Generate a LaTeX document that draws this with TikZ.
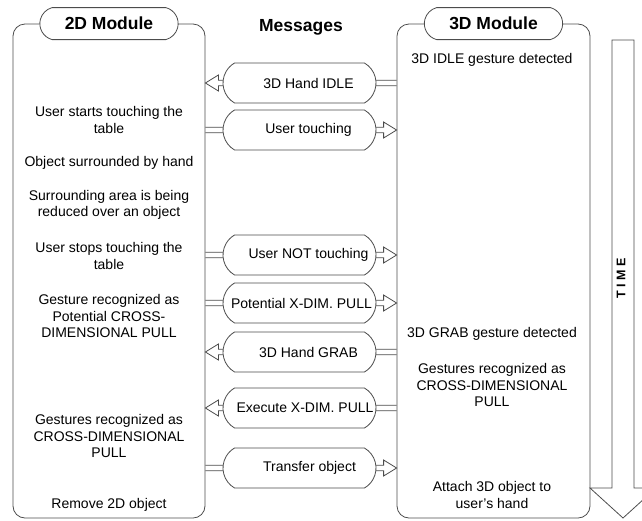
\documentclass[tikz,border=0pt]{standalone}
\usepackage{fontspec}
\setmainfont{Liberation Sans}
\usetikzlibrary{shapes.misc,backgrounds,calc}

\tikzset{
  module/.style={draw=black!70, line width=0.8pt, rounded corners=12pt},
  header/.style={draw=black!70, line width=0.8pt, fill=white, rounded rectangle,
    rounded rectangle arc length=150, minimum width=145pt, minimum height=32pt,
    font=\fontsize{17.5}{20}\selectfont\bfseries},
  msg/.style={draw=black!70, line width=0.8pt, fill=white, rounded rectangle,
    rounded rectangle arc length=120, minimum width=155pt, minimum height=40pt,
    inner xsep=1pt, font=\fontsize{14}{16}\selectfont},
  event/.style={align=center, font=\fontsize{14}{16.5}\selectfont},
  arrowbody/.style={draw=black!70, line width=0.8pt, fill=white},
}

% block arrow from a module edge (#1) to the other one (#2), at the height of message #3
\newcommand{\msgarrow}[3]{%
  \draw[arrowbody] let \p1=(#1 |- #3), \p2=(#2 |- #3),
      \p3=($(\p2)!13pt!(\p1)$) in
    (\x1,\y1+2.8pt) -- (\x3,\y1+2.8pt) -- (\x3,\y1+8pt) -- (\p2)
    -- (\x3,\y1-8pt) -- (\x3,\y1-2.8pt) -- (\x1,\y1-2.8pt);
}

\begin{document}
\begin{tikzpicture}[x=1pt,y=-1pt]
  \useasboundingbox (0,0) rectangle (642,520);
  \clip (0,0) rectangle (642,520);

  % modules
  \node[module, minimum width=192pt, minimum height=494pt] (L) at (109,271) {};
  \node[module, minimum width=193pt, minimum height=494pt] (R) at (493.5,271) {};
  \node[header] (Lhead) at (L.north) {2D Module};
  \node[header] (Rhead) at (R.north) {3D Module};
  \node[font=\fontsize{17.5}{20}\selectfont\bfseries] (mhead) at (301,27) {Messages};

  % messages
  \node[msg] (m1) at (299.5,83) {\hspace*{18pt}3D Hand IDLE};
  \node[msg] (m2) at (299.5,130) {\hspace*{18pt}User touching};
  \node[msg] (m3) at (299.5,255) {\hspace*{18pt}User NOT touching};
  \node[msg] (m4) at (299.5,303) {\hspace*{4pt}Potential X-DIM. PULL};
  \node[msg] (m5) at (299.5,352) {\hspace*{18pt}3D Hand GRAB};
  \node[msg] (m6) at (299.5,408) {\hspace*{11pt}Execute X-DIM. PULL};
  \node[msg] (m7) at (299.5,468) {\hspace*{20pt}Transfer object};

  \begin{pgfonlayer}{background}
    \msgarrow{R.west}{L.east}{m1}
    \msgarrow{L.east}{R.west}{m2}
    \msgarrow{L.east}{R.west}{m3}
    \msgarrow{L.east}{R.west}{m4}
    \msgarrow{R.west}{L.east}{m5}
    \msgarrow{R.west}{L.east}{m6}
    \msgarrow{L.east}{R.west}{m7}
  \end{pgfonlayer}

  % 2D module events
  \node[event] (l1) at (109,120) {User starts touching the\\table};
  \node[event] (l2) at (109,163) {Object surrounded by hand};
  \node[event] (l3) at (109,205) {Surrounding area is being\\reduced over an object};
  \node[event] (l4) at (109,256) {User stops touching the\\table};
  \node[event] (l5) at (109,316) {Gesture recognized as\\Potential CROSS-\\DIMENSIONAL PULL};
  \node[event] (l6) at (109,436) {Gestures recognized as\\CROSS-DIMENSIONAL\\PULL};
  \node[event] (l7) at (109,505) {Remove 2D object};

  % 3D module events
  \node[event] (r1) at (492,60) {3D IDLE gesture detected};
  \node[event] (r2) at (492,334) {3D GRAB gesture detected};
  \node[event] (r3) at (492,385) {Gestures recognized as\\CROSS-DIMENSIONAL\\PULL};
  \node[event] (r4) at (492,495) {Attach 3D object to\\user's hand};

  % time
  \draw[arrowbody] (612,40) -- (634,40) -- (634,488) -- (656,488) -- (623,518)
    -- (590,488) -- (612,488) -- cycle;
  \node[rotate=90, font=\fontsize{12.5}{14}\selectfont\bfseries] (time) at (621,278) {T I M E};
\end{tikzpicture}
\end{document}
